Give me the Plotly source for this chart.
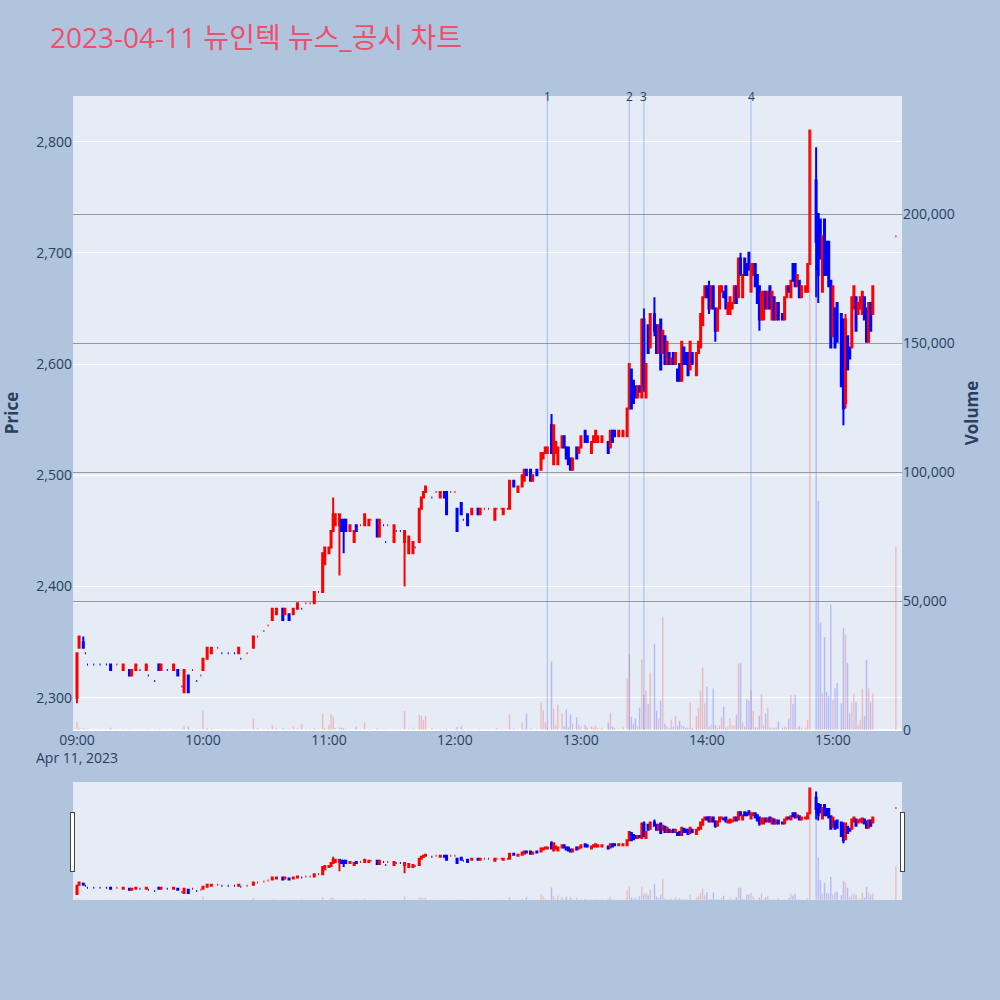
import pandas as pd
import plotly.graph_objects as go
from plotly.subplots import make_subplots

# 1분봉 데이터
times = ["09:00", "09:01", "09:03", "09:04", "09:05", "09:08", "09:11", "09:14", "09:16", "09:19",
         "09:22", "09:25", "09:26", "09:28", "09:30", "09:33", "09:34", "09:37", "09:39", "09:40",
         "09:43", "09:46", "09:48", "09:50", "09:51", "09:53", "09:55", "09:57", "09:59", "10:00",
         "10:02", "10:04", "10:07", "10:09", "10:12", "10:15", "10:17", "10:18", "10:21", "10:24",
         "10:26", "10:29", "10:31", "10:33", "10:35", "10:38", "10:39", "10:41", "10:43", "10:45",
         "10:47", "10:49", "10:51", "10:53", "10:55", "10:57", "10:58", "11:00", "11:01", "11:02",
         "11:03", "11:05", "11:06", "11:07", "11:08", "11:10", "11:12", "11:13", "11:15", "11:17",
         "11:19", "11:20", "11:23", "11:24", "11:26", "11:27", "11:28", "11:31", "11:32", "11:34",
         "11:36", "11:38", "11:40", "11:41", "11:43", "11:44", "11:45", "11:46", "11:49", "11:51",
         "11:53", "11:55", "11:56", "11:58", "12:00", "12:01", "12:03", "12:04", "12:06", "12:08",
         "12:11", "12:12", "12:14", "12:16", "12:19", "12:20", "12:22", "12:23", "12:25", "12:26",
         "12:28", "12:30", "12:32", "12:33", "12:34", "12:36", "12:37", "12:39", "12:41", "12:42",
         "12:43", "12:44", "12:46", "12:47", "12:48", "12:49", "12:51", "12:52", "12:53", "12:54",
         "12:55", "12:56", "12:58", "12:59", "13:00", "13:02", "13:03", "13:05", "13:06", "13:07",
         "13:08", "13:10", "13:13", "13:14", "13:15", "13:16", "13:18", "13:20", "13:22", "13:23",
         "13:24", "13:25", "13:26", "13:27", "13:28", "13:29", "13:30", "13:31", "13:32", "13:33",
         "13:35", "13:36", "13:37", "13:38", "13:39", "13:40", "13:41", "13:42", "13:43", "13:44",
         "13:45", "13:46", "13:47", "13:48", "13:49", "13:50", "13:51", "13:52", "13:53", "13:55",
         "13:56", "13:57", "13:58", "13:59", "14:00", "14:01", "14:02", "14:03", "14:04", "14:05",
         "14:06", "14:07", "14:08", "14:09", "14:10", "14:11", "14:12", "14:13", "14:14", "14:15",
         "14:16", "14:17", "14:18", "14:19", "14:20", "14:21", "14:22", "14:23", "14:24", "14:25",
         "14:26", "14:27", "14:28", "14:29", "14:30", "14:31", "14:32", "14:33", "14:34", "14:36",
         "14:37", "14:38", "14:39", "14:40", "14:41", "14:42", "14:43", "14:44", "14:45", "14:47",
         "14:48", "14:49", "14:52", "14:53", "14:54", "14:55", "14:56", "14:57", "14:58", "14:59",
         "15:00", "15:01", "15:02", "15:04", "15:05", "15:06", "15:07", "15:08", "15:09", "15:10",
         "15:11", "15:12", "15:13", "15:14", "15:15", "15:16", "15:17", "15:18", "15:19", "15:30"]

opens = [2300, 2345, 2350, 2340, 2330, 2330, 2330, 2330, 2330, 2330,
         2325, 2325, 2320, 2325, 2325, 2325, 2320, 2315, 2330, 2325,
         2325, 2325, 2325, 2310, 2305, 2320, 2325, 2315, 2320, 2325,
         2335, 2340, 2345, 2340, 2340, 2340, 2340, 2335, 2340, 2345,
         2355, 2360, 2365, 2370, 2375, 2380, 2375, 2375, 2375, 2380,
         2380, 2385, 2385, 2385, 2395, 2395, 2420, 2430, 2435, 2450,
         2455, 2455, 2460, 2460, 2460, 2450, 2440, 2455, 2455, 2455,
         2455, 2460, 2460, 2445, 2455, 2440, 2455, 2440, 2450, 2450,
         2440, 2430, 2430, 2435, 2440, 2470, 2480, 2485, 2480, 2485,
         2480, 2485, 2485, 2485, 2485, 2470, 2475, 2460, 2465, 2465,
         2470, 2465, 2470, 2470, 2460, 2470, 2470, 2465, 2470, 2470,
         2495, 2485, 2490, 2495, 2505, 2505, 2495, 2505, 2505, 2515,
         2520, 2520, 2545, 2510, 2520, 2510, 2525, 2535, 2525, 2525,
         2515, 2505, 2525, 2520, 2525, 2540, 2535, 2520, 2530, 2530,
         2530, 2530, 2530, 2525, 2540, 2540, 2535, 2535, 2535, 2560,
         2595, 2585, 2580, 2570, 2580, 2570, 2640, 2570, 2635, 2615,
         2645, 2635, 2610, 2640, 2610, 2625, 2600, 2610, 2600, 2610,
         2600, 2595, 2600, 2585, 2615, 2610, 2610, 2595, 2610, 2590,
         2610, 2615, 2635, 2660, 2670, 2670, 2650, 2670, 2650, 2630,
         2650, 2665, 2665, 2670, 2645, 2645, 2650, 2655, 2670, 2660,
         2695, 2660, 2695, 2690, 2700, 2665, 2680, 2690, 2680, 2670,
         2640, 2640, 2665, 2650, 2670, 2640, 2660, 2640, 2655, 2645,
         2640, 2660, 2670, 2660, 2690, 2690, 2670, 2675, 2660, 2665,
         2665, 2690, 2765, 2735, 2730, 2665, 2730, 2710, 2710, 2675,
         2625, 2650, 2655, 2645, 2640, 2565, 2625, 2615, 2615, 2650,
         2660, 2645, 2650, 2645, 2660, 2650, 2620, 2655, 2645, 2715]

highs = [2340, 2355, 2355, 2340, 2330, 2330, 2330, 2330, 2330, 2330,
         2330, 2325, 2325, 2330, 2325, 2330, 2320, 2315, 2330, 2330,
         2325, 2330, 2325, 2310, 2325, 2320, 2325, 2315, 2320, 2335,
         2345, 2345, 2345, 2340, 2340, 2340, 2345, 2335, 2340, 2355,
         2355, 2360, 2365, 2380, 2380, 2380, 2380, 2375, 2380, 2385,
         2380, 2385, 2385, 2395, 2395, 2430, 2435, 2435, 2450, 2480,
         2465, 2465, 2460, 2460, 2460, 2455, 2450, 2455, 2455, 2465,
         2460, 2460, 2460, 2460, 2455, 2440, 2455, 2455, 2450, 2450,
         2450, 2445, 2440, 2435, 2470, 2480, 2485, 2490, 2480, 2485,
         2485, 2485, 2485, 2485, 2485, 2470, 2475, 2460, 2465, 2470,
         2470, 2470, 2470, 2470, 2470, 2470, 2470, 2470, 2470, 2495,
         2495, 2490, 2500, 2505, 2505, 2505, 2500, 2505, 2520, 2520,
         2525, 2525, 2555, 2545, 2530, 2525, 2535, 2535, 2525, 2525,
         2515, 2515, 2525, 2525, 2535, 2540, 2535, 2530, 2535, 2540,
         2535, 2535, 2530, 2540, 2540, 2540, 2540, 2540, 2560, 2600,
         2595, 2585, 2580, 2580, 2580, 2640, 2650, 2600, 2635, 2645,
         2660, 2635, 2635, 2640, 2630, 2625, 2620, 2610, 2605, 2610,
         2610, 2595, 2600, 2620, 2615, 2610, 2610, 2620, 2610, 2610,
         2620, 2645, 2660, 2670, 2670, 2675, 2670, 2670, 2650, 2650,
         2670, 2670, 2665, 2670, 2655, 2660, 2655, 2670, 2670, 2695,
         2700, 2680, 2695, 2690, 2700, 2690, 2690, 2690, 2680, 2670,
         2665, 2665, 2665, 2665, 2670, 2665, 2660, 2655, 2655, 2645,
         2660, 2670, 2670, 2675, 2690, 2690, 2680, 2675, 2670, 2670,
         2690, 2810, 2795, 2735, 2730, 2715, 2730, 2710, 2710, 2675,
         2670, 2650, 2655, 2645, 2640, 2645, 2625, 2615, 2660, 2670,
         2660, 2655, 2660, 2665, 2660, 2650, 2655, 2655, 2670, 2715]

lows = [2295, 2345, 2345, 2340, 2330, 2330, 2330, 2330, 2325, 2330,
        2325, 2320, 2320, 2325, 2325, 2325, 2320, 2315, 2325, 2325,
        2325, 2325, 2320, 2310, 2305, 2305, 2325, 2315, 2320, 2325,
        2335, 2340, 2345, 2340, 2340, 2340, 2340, 2335, 2340, 2345,
        2355, 2360, 2365, 2370, 2375, 2370, 2375, 2370, 2375, 2380,
        2380, 2385, 2385, 2385, 2395, 2395, 2420, 2430, 2435, 2450,
        2455, 2410, 2450, 2430, 2450, 2450, 2440, 2450, 2455, 2455,
        2455, 2460, 2445, 2445, 2455, 2440, 2455, 2440, 2450, 2450,
        2400, 2430, 2430, 2435, 2440, 2470, 2480, 2485, 2480, 2485,
        2480, 2480, 2465, 2485, 2485, 2450, 2465, 2460, 2455, 2465,
        2465, 2465, 2470, 2470, 2460, 2470, 2470, 2465, 2470, 2470,
        2490, 2485, 2490, 2495, 2500, 2495, 2495, 2500, 2505, 2515,
        2520, 2520, 2520, 2510, 2520, 2510, 2525, 2525, 2515, 2510,
        2505, 2505, 2515, 2520, 2525, 2530, 2530, 2520, 2530, 2530,
        2530, 2530, 2520, 2525, 2530, 2535, 2535, 2535, 2535, 2560,
        2560, 2565, 2570, 2570, 2575, 2570, 2575, 2570, 2610, 2615,
        2625, 2610, 2610, 2595, 2610, 2600, 2600, 2600, 2600, 2600,
        2600, 2585, 2585, 2585, 2600, 2600, 2590, 2595, 2600, 2590,
        2610, 2615, 2635, 2660, 2660, 2645, 2650, 2650, 2620, 2630,
        2650, 2665, 2660, 2650, 2645, 2645, 2650, 2655, 2655, 2660,
        2680, 2660, 2680, 2680, 2685, 2665, 2680, 2670, 2655, 2630,
        2640, 2640, 2650, 2650, 2650, 2640, 2640, 2640, 2640, 2640,
        2640, 2660, 2665, 2660, 2675, 2670, 2670, 2660, 2660, 2665,
        2665, 2690, 2660, 2655, 2695, 2665, 2680, 2680, 2670, 2615,
        2625, 2615, 2620, 2580, 2545, 2560, 2595, 2605, 2615, 2650,
        2630, 2645, 2650, 2645, 2640, 2620, 2620, 2630, 2645, 2715]

closes = [2340, 2355, 2345, 2340, 2330, 2330, 2330, 2330, 2325, 2330,
          2330, 2320, 2325, 2330, 2325, 2330, 2320, 2315, 2325, 2330,
          2325, 2330, 2320, 2310, 2325, 2305, 2325, 2315, 2320, 2335,
          2345, 2345, 2345, 2340, 2340, 2340, 2345, 2335, 2340, 2355,
          2355, 2360, 2365, 2380, 2380, 2370, 2380, 2370, 2380, 2385,
          2380, 2385, 2385, 2395, 2395, 2430, 2435, 2435, 2450, 2465,
          2465, 2465, 2450, 2450, 2450, 2455, 2450, 2450, 2455, 2465,
          2460, 2460, 2445, 2460, 2455, 2440, 2455, 2455, 2450, 2450,
          2450, 2445, 2440, 2435, 2470, 2480, 2485, 2490, 2480, 2485,
          2485, 2480, 2465, 2485, 2485, 2450, 2465, 2460, 2455, 2470,
          2465, 2470, 2470, 2470, 2470, 2470, 2470, 2470, 2470, 2495,
          2490, 2490, 2500, 2505, 2500, 2495, 2500, 2500, 2520, 2520,
          2525, 2525, 2520, 2545, 2530, 2525, 2535, 2525, 2515, 2510,
          2505, 2515, 2515, 2525, 2535, 2530, 2530, 2530, 2535, 2540,
          2535, 2535, 2520, 2540, 2530, 2535, 2540, 2540, 2560, 2600,
          2560, 2565, 2570, 2580, 2575, 2640, 2580, 2600, 2610, 2645,
          2630, 2610, 2635, 2595, 2630, 2600, 2620, 2600, 2605, 2600,
          2610, 2585, 2585, 2620, 2600, 2600, 2590, 2620, 2600, 2610,
          2620, 2645, 2660, 2670, 2660, 2650, 2670, 2650, 2630, 2650,
          2670, 2670, 2660, 2650, 2655, 2660, 2655, 2670, 2655, 2695,
          2680, 2680, 2680, 2680, 2685, 2690, 2690, 2670, 2655, 2640,
          2665, 2665, 2650, 2665, 2650, 2665, 2640, 2655, 2640, 2640,
          2660, 2670, 2665, 2675, 2675, 2670, 2680, 2660, 2670, 2670,
          2690, 2810, 2710, 2680, 2695, 2715, 2680, 2680, 2670, 2615,
          2670, 2615, 2620, 2580, 2560, 2640, 2595, 2605, 2660, 2670,
          2630, 2655, 2660, 2665, 2640, 2620, 2655, 2630, 2670, 2715]

volumes = [3200, 900, 600, 300, 200, 200, 200, 400, 900, 200,
           300, 300, 300, 200, 200, 200, 300, 200, 300, 200,
           200, 300, 300, 500, 1600, 1500, 200, 300, 200, 7800,
           800, 500, 300, 200, 200, 200, 300, 200, 300, 4300,
           800, 300, 500, 2000, 800, 800, 400, 500, 1300, 600,
           2500, 300, 300, 800, 500, 6300, 800, 2100, 6000, 5200,
           800, 1000, 900, 800, 500, 400, 300, 1300, 300, 3000,
           300, 400, 600, 300, 300, 300, 200, 300, 200, 200,
           7400, 500, 1000, 300, 6000, 5600, 4000, 5600, 800, 300,
           400, 300, 500, 300, 300, 1300, 1600, 400, 300, 300,
           300, 300, 200, 300, 300, 900, 300, 300, 300, 6100,
           500, 400, 3000, 500, 6500, 500, 400, 300, 10800, 7900,
           3000, 1000, 26600, 8300, 2000, 9800, 6500, 1500, 7900, 1000,
           6100, 2500, 5000, 2000, 1500, 2000, 1000, 1500, 1000, 1700,
           800, 1000, 3000, 6700, 1500, 800, 600, 1300, 19900, 29200,
           5200, 2500, 4500, 1500, 8800, 27500, 13700, 15300, 10200, 22300,
           33400, 7500, 4400, 11400, 44000, 2500, 1500, 800, 4000, 1500,
           5600, 1500, 3600, 2000, 1500, 800, 1000, 10800, 800, 5600,
           8700, 15300, 24300, 10400, 16900, 1500, 2000, 16200, 2000, 800,
           1800, 5000, 9100, 1000, 1500, 4700, 1800, 1800, 5900, 25800,
           26100, 3000, 1500, 12100, 11400, 15200, 7400, 1000, 1000, 5600,
           14000, 2000, 6500, 8700, 1000, 1000, 1000, 1000, 3400, 1000,
           1500, 1200, 4400, 13600, 10200, 13600, 1000, 1500, 800, 1000,
           4000, 233000, 178000, 89000, 41800, 14500, 36100, 14900, 13300, 48700,
           11700, 16200, 18200, 10400, 39600, 37000, 26000, 6500, 10800, 14300,
           11000, 2000, 4000, 16000, 5500, 27300, 16200, 11000, 14300, 71000]

# 뉴스/공시 시각
event_times = ["12:44", "13:23", "13:30", "14:21"]
event_labels = ["1", "2", "3", "4"]

x = pd.to_datetime(["2023-04-11 " + t for t in times])
vol_colors = ["red" if c >= o else "blue" for o, c in zip(opens, closes)]

fig = make_subplots(specs=[[{"secondary_y": True}]])

fig.add_trace(go.Candlestick(x=x, open=opens, high=highs, low=lows, close=closes,
                             increasing=dict(line=dict(color="red"), fillcolor="red"),
                             decreasing=dict(line=dict(color="blue"), fillcolor="blue"),
                             name="Price"), secondary_y=False)

fig.add_trace(go.Bar(x=x, y=volumes, marker_color=vol_colors, opacity=0.25,
                     name="Volume"), secondary_y=True)

for t, lab in zip(event_times, event_labels):
    ts = pd.Timestamp("2023-04-11 " + t)
    fig.add_shape(type="line", x0=ts, x1=ts, y0=0, y1=1, xref="x", yref="paper",
                  line=dict(color="rgba(65,105,225,0.4)", width=1))
    fig.add_annotation(x=ts, y=1, xref="x", yref="paper", text=lab, showarrow=False,
                       yanchor="middle", font=dict(size=12, color="#2a3f5f"))

fig.update_layout(
    title=dict(text="2023-04-11 뉴인텍 뉴스_공시 차트",
               font=dict(size=28, color="#EC506A",
                         family="Open Sans, Noto Sans CJK KR")),
    width=1000, height=1000,
    font=dict(size=14),
    paper_bgcolor="lightsteelblue",
    showlegend=False,
    margin=dict(l=73, r=98, t=96, b=100),
    xaxis=dict(domain=[0, 1],
               range=["2023-04-11 08:58:06", "2023-04-11 15:32:54"],
               rangeslider=dict(visible=True, thickness=0.147, bgcolor="#E5ECF6")),
)
fig.update_yaxes(title=dict(text="<b>Price</b>", standoff=14), tickformat=",",
                 range=[2271, 2841], automargin=False, secondary_y=False)
fig.update_yaxes(title=dict(text="<b>Volume</b>", standoff=12), tickformat=",",
                 range=[0, 246000], automargin=False,
                 showgrid=True, gridcolor="#999999", secondary_y=True)

fig.write_html("out.html", config={"displayModeBar": False},
               post_script="document.body.style.margin='0';")
